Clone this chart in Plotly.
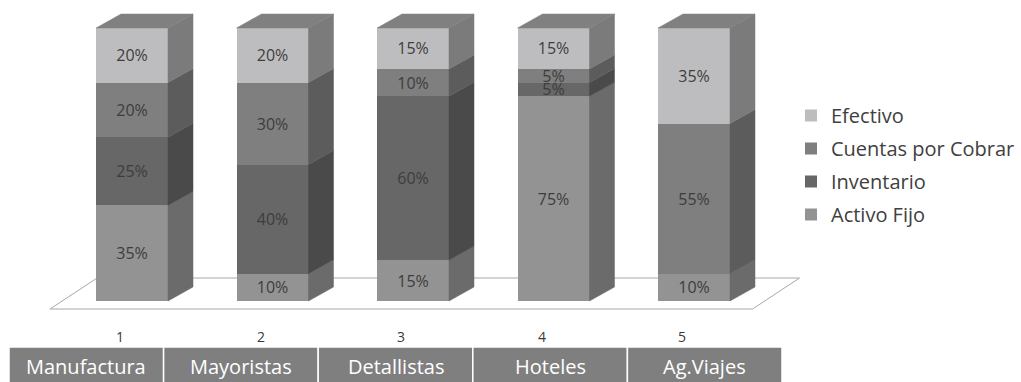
import plotly.graph_objects as go

# Data: asset structure by business type (% of total assets)
categorias = ["Manufactura", "Mayoristas", "Detallistas", "Hoteles", "Ag.Viajes"]
numeros = ["1", "2", "3", "4", "5"]
activo_fijo = [35, 10, 15, 75, 10]
inventario = [25, 40, 60, 5, 0]
cuentas_por_cobrar = [20, 30, 10, 5, 55]
efectivo = [20, 20, 15, 15, 35]

# (name, values, front colour, side colour, top colour) - stacked bottom to top
series = [
    ("Activo Fijo", activo_fijo, "#939393", "#6b6b6b", "#7a7a7a"),
    ("Inventario", inventario, "#676767", "#4a4a4a", "#555555"),
    ("Cuentas por Cobrar", cuentas_por_cobrar, "#7f7f7f", "#5c5c5c", "#6a6a6a"),
    ("Efectivo", efectivo, "#bdbdbf", "#7b7b7b", "#808080"),
]

W, H = 1021, 382
FONT = "Open Sans"
TEXT_COL = "#3d3d3d"

# Pixel geometry of the plotting frame
X0_PX, STEP_PX = 132.0, 140.5       # first category centre, category spacing
Y0_PX, PX_PER_PCT = 301.0, 2.73     # zero line, pixels per percentage point

BAR_W = 72 / STEP_PX                # bar width in category units
DX, DY = 25 / STEP_PX, 14 / PX_PER_PCT   # 3D depth of each bar

# Floor plane: front edge centred on the category slots, with its own depth
FLOOR_SHIFT = -11.7 / STEP_PX
FLOOR_FRONT_Y = -8 / PX_PER_PCT
FLOOR_DX, FLOOR_DY = 47 / STEP_PX, 31 / PX_PER_PCT

xs = list(range(len(categorias)))

fig = go.Figure()

# Front faces: stacked bars (legend lists the top series first)
for idx, (name, vals, front, side, top) in enumerate(series):
    fig.add_trace(go.Bar(
        x=xs, y=vals, name=name, legendgroup=name,
        legendrank=len(series) - idx, width=BAR_W,
        marker=dict(color=front, line=dict(width=0)),
        text=[f"{v}%" if v else "" for v in vals],
        textposition="inside", insidetextanchor="middle",
        textfont=dict(family=FONT, size=16, color=TEXT_COL),
        hoverinfo="name+y",
    ))

# Side faces of every stacked segment
base = [0] * len(xs)
for name, vals, front, side, top in series:
    px, py = [], []
    for i, v in enumerate(vals):
        if v > 0:
            xr = xs[i] + BAR_W / 2
            y0, y1 = base[i], base[i] + v
            px += [xr, xr + DX, xr + DX, xr, xr, None]
            py += [y0, y0 + DY, y1 + DY, y1, y0, None]
        base[i] += v
    fig.add_trace(go.Scatter(
        x=px, y=py, mode="lines", fill="toself", fillcolor=side,
        line=dict(width=0.5, color=side), showlegend=False, hoverinfo="skip",
    ))

# Top faces, shaded after the uppermost series of each bar
top_col = series[-1][4]
tx, ty = [], []
for i in xs:
    xl, xr, yt = xs[i] - BAR_W / 2, xs[i] + BAR_W / 2, base[i]
    tx += [xl, xl + DX, xr + DX, xr, xl, None]
    ty += [yt, yt + DY, yt + DY, yt, yt, None]
fig.add_trace(go.Scatter(
    x=tx, y=ty, mode="lines", fill="toself", fillcolor=top_col,
    line=dict(width=0.5, color=top_col), showlegend=False, hoverinfo="skip",
))

# Floor plane
fl = xs[0] - 0.5 + FLOOR_SHIFT
fr = xs[-1] + 0.5 + FLOOR_SHIFT
fy = FLOOR_FRONT_Y
floor_path = (f"M {fl},{fy} L {fr},{fy} L {fr + FLOOR_DX},{fy + FLOOR_DY} "
              f"L {fl + FLOOR_DX},{fy + FLOOR_DY} Z")
shapes = [dict(type="path", path=floor_path, xref="x", yref="y",
               line=dict(color="#a8a8a8", width=1), fillcolor="white",
               layer="below")]

# Category numbers along the front edge of the floor
annotations = []
for i, lab in zip(xs, numeros):
    annotations.append(dict(
        x=i + FLOOR_SHIFT, y=-35 / PX_PER_PCT, xref="x", yref="y",
        xanchor="center", yanchor="middle",
        text=lab, showarrow=False,
        font=dict(family=FONT, size=14, color="#3a3a3a"),
    ))

# Data table of category names under the chart
T_LEFT, T_RIGHT, T_TOP = 9, 782, 347
col_w = (T_RIGHT - T_LEFT) / len(categorias)
for k, cat in enumerate(categorias):
    x0 = (T_LEFT + k * col_w) / W
    x1 = (T_LEFT + (k + 1) * col_w) / W
    shapes.append(dict(
        type="rect", xref="paper", yref="paper",
        x0=x0, x1=x1, y0=-0.05, y1=1 - T_TOP / H,
        fillcolor="#7f7f7f", line=dict(color="white", width=1.5),
    ))
    annotations.append(dict(
        x=(x0 + x1) / 2, y=1 - 366 / H, xref="paper", yref="paper",
        xanchor="center", yanchor="middle",
        text=cat, showarrow=False,
        font=dict(family=FONT, size=20, color="white"),
    ))

fig.update_layout(
    width=W, height=H,
    margin=dict(l=0, r=0, t=0, b=0),
    barmode="stack",
    plot_bgcolor="white", paper_bgcolor="white",
    xaxis=dict(range=[-X0_PX / STEP_PX, (W - X0_PX) / STEP_PX],
               visible=False, fixedrange=True),
    yaxis=dict(range=[-(H - Y0_PX) / PX_PER_PCT, Y0_PX / PX_PER_PCT],
               visible=False, fixedrange=True),
    legend=dict(
        x=791 / W, y=1 - 96 / H, xanchor="left", yanchor="top",
        traceorder="grouped", tracegroupgap=4,
        bgcolor="rgba(0,0,0,0)",
        font=dict(family=FONT, size=20, color="#404040"),
        itemwidth=30,
    ),
    uniformtext=dict(minsize=16, mode="show"),
    shapes=shapes,
    annotations=annotations,
    showlegend=True,
)

fig.write_html("out.html")
